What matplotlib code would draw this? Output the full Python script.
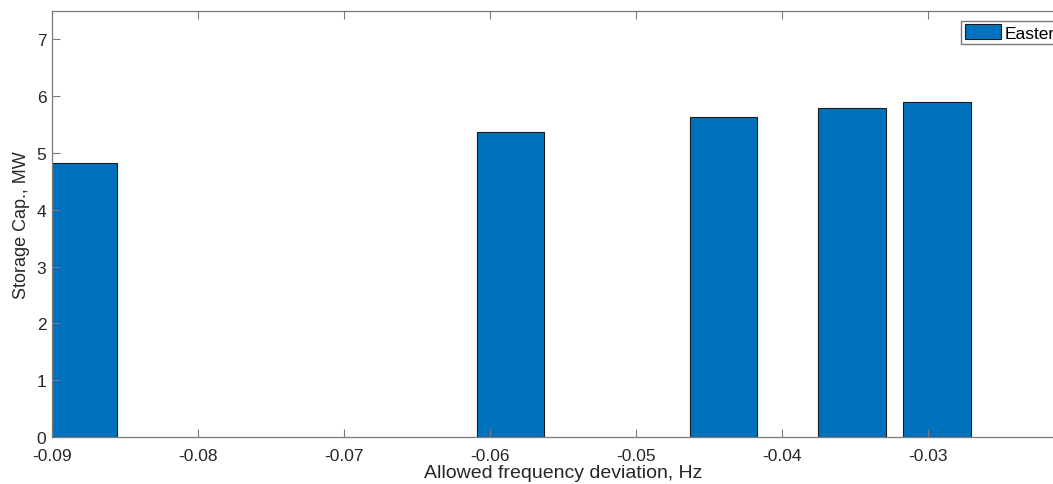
import matplotlib.pyplot as plt

# Data
deviation = [-0.0879, -0.0586, -0.0440, -0.0352, -0.0294]   # Hz
storage = [4.83, 5.37, 5.64, 5.79, 5.89]                     # MW
series_name = 'Eastern'

plt.rcParams['font.family'] = ['Liberation Sans', 'DejaVu Sans']

fig = plt.figure(figsize=(10.53, 4.85), dpi=100)
# axes run past the right edge of the picture, as in the reference
ax = fig.add_axes([52 / 1053, 47 / 485, 1022 / 1053, 426 / 485])

width = 0.8 * (deviation[4] - deviation[3])
ax.bar(deviation, storage, width=width, color='#0072BD', edgecolor='#1a1a1a',
       linewidth=0.8, label=series_name)

ax.set_xlim(-0.09, -0.02)
ax.set_ylim(0, 7.5)
ax.set_xticks([-0.09, -0.08, -0.07, -0.06, -0.05, -0.04, -0.03])
ax.set_xticklabels(['-0.09', '-0.08', '-0.07', '-0.06', '-0.05', '-0.04', '-0.03'])
ax.set_yticks(range(0, 8))

for s in ax.spines.values():
    s.set_color('#7a7a7a')
    s.set_linewidth(0.9)
ax.tick_params(direction='in', length=6, width=0.8, color='#7a7a7a',
               labelcolor='#262626', labelsize=12.5, top=True, right=True)
ax.tick_params(axis='x', pad=8)
ax.tick_params(axis='y', pad=4)

ax.set_xlabel('Allowed frequency deviation, Hz', fontsize=14, color='#262626', labelpad=1)
ax.set_ylabel('Storage Cap., MW', fontsize=13, color='#262626', labelpad=5)

ax.legend(loc='upper right', bbox_to_anchor=(0.994, 0.977), fontsize=12.5,
          frameon=True, fancybox=False, edgecolor='#7a7a7a', framealpha=1,
          handlelength=2.1, handleheight=0.95, handletextpad=0.2,
          borderpad=0.2, borderaxespad=0)

fig.savefig('out.png', dpi=100)
